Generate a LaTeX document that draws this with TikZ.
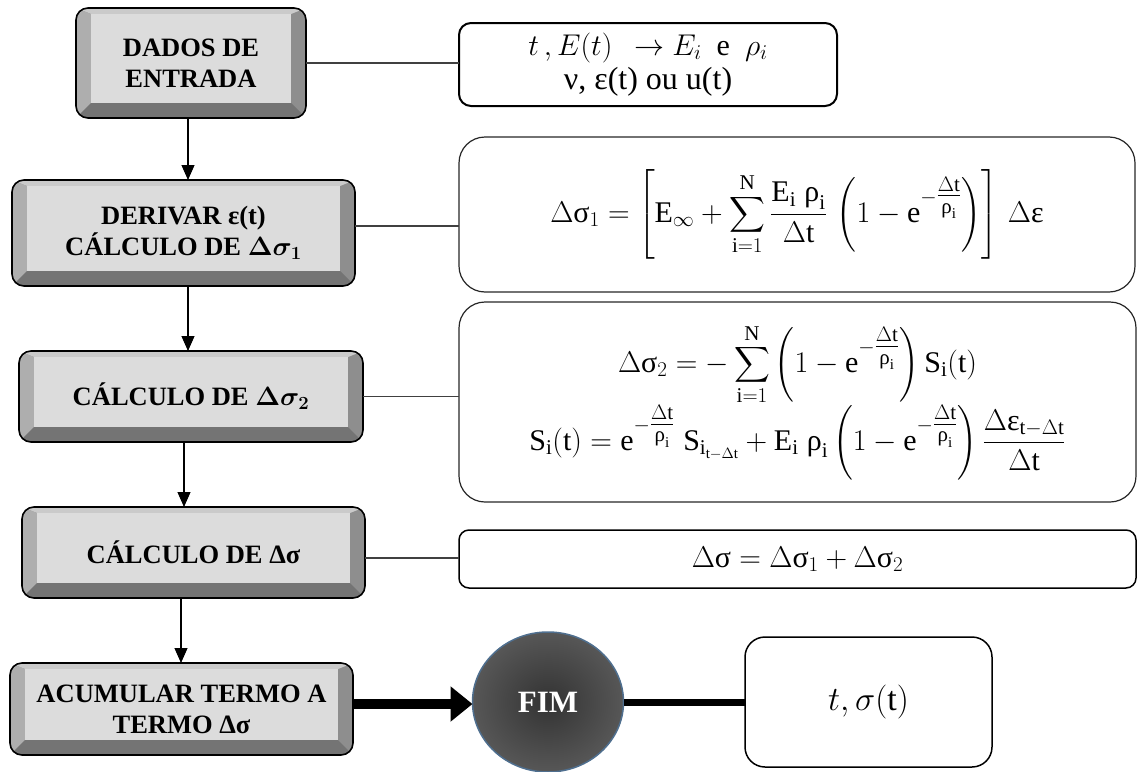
\RequirePackage{fix-cm}
\documentclass[tikz,border=0pt]{standalone}
\usepackage{amsmath}
\usepackage{fontspec}
\setmainfont{Liberation Serif}
\usetikzlibrary{arrows.meta,backgrounds,shapes.geometric}
\definecolor{bvtop}{HTML}{CACACA}
\definecolor{bvleft}{HTML}{AEAEAE}
\definecolor{bvright}{HTML}{8E8E8E}
\definecolor{bvbot}{HTML}{747474}
\definecolor{bvface}{HTML}{DCDCDC}
\definecolor{fimedge}{HTML}{4F6F8F}
\newcommand\gsig{\text{σ}}
\newcommand\grho{\text{ρ}}
\newcommand\geps{\text{ε}}
\newcommand\expfr{{-\genfrac{}{}{}{1}{\Delta\mathrm{t}}{\grho_\mathrm{i}}}}
\newcommand\bevelfill[1]{%
\begin{scope}[on background layer]
  \fill[bvright, rounded corners=12pt] (#1.south west) rectangle (#1.north east);
  \begin{scope}
    \clip[rounded corners=12pt] (#1.south west) rectangle (#1.north east);
    \fill[bvtop] (#1.north west) -- (#1.north east) -- ([shift={(-15pt,-6pt)}]#1.north east) -- ([shift={(15pt,-6pt)}]#1.north west) -- cycle;
    \fill[bvleft] (#1.north west) -- ([shift={(15pt,-6pt)}]#1.north west) -- ([shift={(15pt,15pt)}]#1.south west) -- (#1.south west) -- cycle;
    \fill[bvbot] (#1.south west) -- ([shift={(15pt,15pt)}]#1.south west) -- ([shift={(-15pt,15pt)}]#1.south east) -- (#1.south east) -- cycle;
    \fill[bvface] ([shift={(15pt,15pt)}]#1.south west) rectangle ([shift={(-15pt,-6pt)}]#1.north east);
  \end{scope}
\end{scope}}
\tikzset{
  stepbox/.style={draw=black, line width=1.6pt, rounded corners=12pt, inner sep=0pt, outer sep=0pt,
    align=center, font=\fontsize{26.5}{31}\selectfont\bfseries},
  infobox/.style={draw=black, line width=1.5pt, inner sep=0pt, outer sep=0pt, align=center,
    font=\fontsize{30}{34}\selectfont},
  link/.style={draw=black!75, line width=1.1pt},
  arr/.style={draw=black, line width=1.1pt, -{Triangle[width=13pt,length=15pt]}},
  bigarr/.style={draw=black, line width=10pt, -{Triangle[width=34pt,length=22pt]}},
  thickline/.style={draw=black, line width=7pt}
}
\begin{document}
\begin{tikzpicture}[x=1pt,y=-1pt]
\useasboundingbox (0,0) rectangle (1137,771);
% left process boxes
\node[stepbox, minimum width=230pt, minimum height=110pt] (d1) at (191,63) {DADOS DE\\ENTRADA};
\node[stepbox, minimum width=343pt, minimum height=106pt] (d2) at (183.5,233) {DERIVAR ε(t)\\CÁLCULO DE $\boldsymbol{\Delta\sigma_1}$};
\node[stepbox, minimum width=344pt, minimum height=91pt] (d3) at (191,396.5) {CÁLCULO DE $\boldsymbol{\Delta\sigma_2}$};
\node[stepbox, minimum width=343pt, minimum height=91pt] (d4) at (193.5,552.5) {CÁLCULO DE Δσ};
\node[stepbox, minimum width=343pt, minimum height=92pt] (d5) at (181.5,709) {ACUMULAR TERMO A\\TERMO Δσ};
\bevelfill{d1}\bevelfill{d2}\bevelfill{d3}\bevelfill{d4}\bevelfill{d5}
% right boxes
\node[infobox, line width=2pt, rounded corners=12pt, minimum width=378pt, minimum height=83pt] (r1) at (648,64.5)
  {$t\,,E(t)\;\,\rightarrow E_i$\ \ e\ \ $\rho_i$\\[0pt]{\fontsize{32}{34}\selectfont ν, ε(t) ou u(t)}};
\node[infobox, draw=black!85, line width=1.2pt, rounded corners=26pt, minimum width=676pt, minimum height=155pt] (r2) at (797,214.5)
  {$\displaystyle \Delta\gsig_1 = \left[\mathrm{E}_\infty + \sum_{\mathrm{i}=1}^{\mathrm{N}} \frac{\mathrm{E_i}\;\grho_\mathrm{i}}{\Delta\mathrm{t}}\,\left(1-\mathrm{e}^{\expfr}\right)\right]\,\Delta\geps$};
\node[infobox, draw=black!85, line width=1.2pt, rounded corners=26pt, minimum width=677pt, minimum height=200pt] (r3) at (797.5,402)
  {\begin{tabular}{@{}c@{}}
   $\displaystyle \Delta\gsig_2 = -\sum_{\mathrm{i}=1}^{\mathrm{N}}\left(1-\mathrm{e}^{\expfr}\right)\mathrm{S_i(t)}$\\[10pt]
   $\displaystyle \mathrm{S_i(t)} = \mathrm{e}^{\expfr}\;\mathrm{S}_{\mathrm{i}_{\mathrm{t}-\Delta\mathrm{t}}} + \mathrm{E_i}\;\grho_\mathrm{i}\left(1-\mathrm{e}^{\expfr}\right)\frac{\Delta\geps_{\mathrm{t}-\Delta\mathrm{t}}}{\Delta\mathrm{t}}$
   \end{tabular}};
\node[infobox, rounded corners=10pt, minimum width=677pt, minimum height=58pt] (r4) at (797.5,559)
  {$\Delta\gsig = \Delta\gsig_1 + \Delta\gsig_2$};
\node[infobox, rounded corners=20pt, minimum width=247pt, minimum height=130pt, font=\fontsize{34}{38}\selectfont] (r5) at (868.5,702)
  {$t,\sigma(\mathrm{t})$};
\node[ellipse, draw=fimedge, line width=1.5pt, inner color=black!80, outer color=black!66,
  minimum width=151pt, minimum height=140pt, inner sep=0pt, outer sep=0pt,
  text=white, font=\fontsize{31}{36}\selectfont\bfseries] (fim) at (548,702) {FIM};
% vertical arrows
\draw[arr] ([xshift=-3pt]d1.south) -- ([xshift=-3pt]d1.south |- d2.north);
\draw[arr] ([xshift=4.5pt]d2.south) -- ([xshift=4.5pt]d2.south |- d3.north);
\draw[arr] ([xshift=-7pt]d3.south) -- ([xshift=-7pt]d3.south |- d4.north);
\draw[arr] ([xshift=-12.5pt]d4.south) -- ([xshift=-12.5pt]d4.south |- d5.north);
% horizontal links
\draw[link] (d1.east) -- (d1.east -| r1.west);
\draw[link] ([yshift=7pt]d2.east) -- ([yshift=7pt]d2.east -| r2.west);
\draw[link] (d3.east) -- (d3.east -| r3.west);
\draw[link] ([yshift=-5.5pt]d4.east) -- ([yshift=-5.5pt]d4.east -| r4.west);
\draw[bigarr] ([yshift=5pt]d5.east) -- ([yshift=5pt]d5.east -| fim.west);
\draw[thickline] (fim.east) -- (fim.east -| r5.west);
\end{tikzpicture}
\end{document}
